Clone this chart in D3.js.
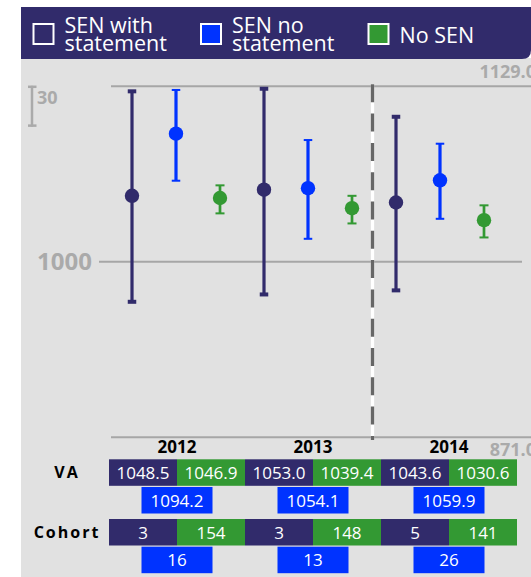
<!DOCTYPE html>
<html lang="en">
<head>
<meta charset="UTF-8">
<title>Value added by SEN group</title>
<script src="https://d3js.org/d3.v7.min.js"></script>
<style>
    body {
        margin: 0;
        background: #fff;
        font-family: "Open Sans", Arial, sans-serif;
    }
    svg { display: block; }
    .lbl-grey { fill: #aaaaaa; font-weight: bold; }
    .cell-text { fill: #fff; font-size: 17px; text-anchor: middle; }
</style>
</head>
<body>
<div id="chart"></div>
<script>
    const years = ["2012", "2013", "2014"];
    const groups = ["SEN with statement", "SEN no statement", "No SEN"];
    const legendLines = [["SEN with", "statement"], ["SEN no", "statement"], ["No SEN"]];
    const colors = ["#312b6b", "#0033ff", "#339933"];

    // VA score per group, per year
    const vaSenWith = [1048.5, 1053.0, 1043.6];
    const vaSenNo = [1094.2, 1054.1, 1059.9];
    const vaNoSen = [1046.9, 1039.4, 1030.6];

    // confidence interval bounds
    const loSenWith = [970.6, 976.0, 979.0];
    const hiSenWith = [1125.3, 1127.2, 1106.6];
    const loSenNo = [1059.6, 1016.9, 1031.6];
    const hiSenNo = [1126.3, 1089.5, 1086.8];
    const loNoSen = [1035.6, 1028.2, 1017.9];
    const hiNoSen = [1056.2, 1048.5, 1041.5];

    const cohortSenWith = [3, 3, 5];
    const cohortSenNo = [16, 13, 26];
    const cohortNoSen = [154, 148, 141];

    const yDomain = [871, 1129];
    const midValue = 1000;
    const scaleBarValue = 30;

    const W = 531, H = 577;
    const svg = d3.select("#chart").append("svg")
        .attr("width", W).attr("height", H);

    // background + header
    svg.append("rect").attr("x", 21).attr("y", 58).attr("width", W - 21).attr("height", H - 58)
        .attr("fill", "#e1e1e1");
    const r = 9;
    svg.append("path")
        .attr("d", `M21,7H${W}V${59 - r}Q${W},59 ${W - r},59H21Z`)
        .attr("fill", colors[0]);

    const legendX = [33.5, 201, 368.5];
    groups.forEach((g, i) => {
        const lg = svg.append("g").attr("transform", `translate(${legendX[i]},24)`);
        lg.append("rect").attr("width", 20).attr("height", 20)
            .attr("fill", colors[i]).attr("stroke", "#fff").attr("stroke-width", 2);
        const lines = legendLines[i];
        const t = lg.append("text").attr("x", 31).attr("fill", "#fff").style("font-size", "21.5px");
        lines.forEach((ln, j) => {
            t.append("tspan").attr("x", 31)
                .attr("y", lines.length === 1 ? 19 : 8.5 + j * 18)
                .text(ln);
        });
    });

    // scales
    const y = d3.scaleLinear().domain(yDomain).range([437.3, 86.3]);
    const x = d3.scaleBand().domain(years).range([110, 506]);
    const xg = d3.scalePoint().domain(groups).range([22, 110]);

    // reference lines
    svg.append("line").attr("x1", 111).attr("x2", W).attr("y1", y(yDomain[1])).attr("y2", y(yDomain[1]))
        .attr("stroke", "#a6a6a6").attr("stroke-width", 2);
    svg.append("line").attr("x1", 111).attr("x2", W).attr("y1", y(yDomain[0])).attr("y2", y(yDomain[0]))
        .attr("stroke", "#a6a6a6").attr("stroke-width", 2);
    svg.append("line").attr("x1", 99).attr("x2", 522).attr("y1", y(midValue)).attr("y2", y(midValue))
        .attr("stroke", "#a6a6a6").attr("stroke-width", 2);

    svg.append("text").attr("class", "lbl-grey").attr("x", 92).attr("y", y(midValue) + 8.5)
        .attr("text-anchor", "end").style("font-size", "24px").text(midValue);
    svg.append("text").attr("class", "lbl-grey").attr("x", 536).attr("y", 78)
        .attr("text-anchor", "end").style("font-size", "18px").text(yDomain[1].toFixed(1));
    svg.append("text").attr("class", "lbl-grey").attr("x", 536).attr("y", 456)
        .attr("text-anchor", "end").style("font-size", "18px").text(yDomain[0].toFixed(1));

    // scale bar
    const sbTop = y(yDomain[1]) - 0.5;
    const sbBot = sbTop + (y(0) - y(scaleBarValue));
    const sb = svg.append("g").attr("stroke", "#aaaaaa").attr("stroke-width", 2.5);
    sb.append("line").attr("x1", 32).attr("x2", 32).attr("y1", sbTop).attr("y2", sbBot);
    sb.append("line").attr("x1", 28).attr("x2", 36.5).attr("y1", sbTop + 1).attr("y2", sbTop + 1);
    sb.append("line").attr("x1", 28).attr("x2", 36.5).attr("y1", sbBot - 1).attr("y2", sbBot - 1);
    svg.append("text").attr("class", "lbl-grey").attr("x", 37).attr("y", 104)
        .style("font-size", "18px").text(scaleBarValue);

    // dashed divider between 2013 and 2014
    const divX = 372.5;
    svg.append("line").attr("x1", divX).attr("x2", divX).attr("y1", 84.3).attr("y2", 440)
        .attr("stroke", "#fff").attr("stroke-width", 3.3);
    svg.append("line").attr("x1", divX).attr("x2", divX).attr("y1", 84.3).attr("y2", 440)
        .attr("stroke", "#666").attr("stroke-width", 3.3).attr("stroke-dasharray", "18,11.3");

    // error bars + points
    const series = [
        {va: vaSenWith, lo: loSenWith, hi: hiSenWith, capH: 4, capW: 8.5},
        {va: vaSenNo, lo: loSenNo, hi: hiSenNo, capH: 2, capW: 8.5},
        {va: vaNoSen, lo: loNoSen, hi: hiNoSen, capH: 2, capW: 9}
    ];
    series.forEach((s, gi) => {
        const gEl = svg.append("g").attr("fill", colors[gi]).attr("stroke", colors[gi]);
        years.forEach((yr, i) => {
            const cx = x(yr) + xg(groups[gi]);
            gEl.append("line").attr("x1", cx).attr("x2", cx)
                .attr("y1", y(s.hi[i])).attr("y2", y(s.lo[i])).attr("stroke-width", gi === 2 ? 2.7 : 3.2);
            [s.hi[i], s.lo[i]].forEach(v => {
                gEl.append("rect").attr("x", cx - s.capW / 2).attr("y", y(v) - s.capH / 2)
                    .attr("width", s.capW).attr("height", s.capH).attr("stroke", "none");
            });
            gEl.append("circle").attr("cx", cx).attr("cy", y(s.va[i])).attr("r", 7.2).attr("stroke", "none");
        });
    });

    // table
    const xt = d3.scaleBand().domain(years).range([109, 517]);
    const half = xt.bandwidth() / 2;
    years.forEach(yr => {
        svg.append("text").attr("x", xt(yr) + half).attr("y", 453)
            .attr("text-anchor", "middle").style("font-size", "17px").style("font-weight", "bold")
            .attr("fill", "#000").text(yr);
    });

    const rows = [
        {label: "VA", top: 459.3, a: vaSenWith, b: vaNoSen, c: vaSenNo, fmt: d3.format(".1f"), ls: 2},
        {label: "Cohort", top: 519, a: cohortSenWith, b: cohortNoSen, c: cohortSenNo, fmt: d => d, ls: 2}
    ];
    const cellH = 26.5;
    rows.forEach(row => {
        svg.append("text").attr("x", 67).attr("y", row.top + 19)
            .attr("text-anchor", "middle").style("font-size", "16px").style("font-weight", "bold")
            .style("letter-spacing", row.ls + "px").attr("fill", "#000").text(row.label);
        years.forEach((yr, i) => {
            const x0 = xt(yr);
            const cells = [
                {x: x0, w: half, y: row.top, v: row.a[i], c: colors[0]},
                {x: x0 + half, w: half, y: row.top, v: row.b[i], c: colors[2]},
                {x: x0 + half - 35.5, w: 71, y: row.top + 27.7, v: row.c[i], c: colors[1]}
            ];
            cells.forEach(cl => {
                svg.append("rect").attr("x", cl.x).attr("y", cl.y).attr("width", cl.w).attr("height", cellH)
                    .attr("fill", cl.c);
                svg.append("text").attr("class", "cell-text").attr("x", cl.x + cl.w / 2).attr("y", cl.y + 19.5)
                    .text(row.fmt(cl.v));
            });
        });
    });
</script>
</body>
</html>
